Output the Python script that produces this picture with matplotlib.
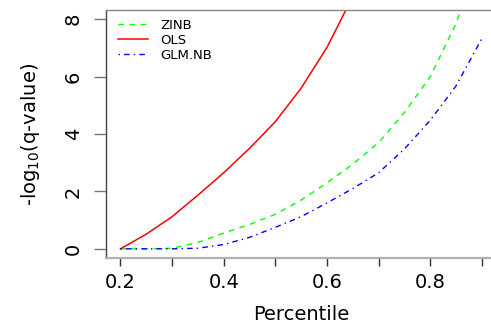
import matplotlib
matplotlib.use("Agg")
import matplotlib.pyplot as plt

plt.rcParams['font.family'] = ['DejaVu Sans']
plt.rcParams['mathtext.fontset'] = 'dejavusans'

percentile = [0.20, 0.25, 0.30, 0.35, 0.40, 0.45, 0.50, 0.55, 0.60, 0.65, 0.70, 0.75, 0.80, 0.85, 0.90]
zinb = [0.0, 0.0, 0.02, 0.22, 0.55, 0.85, 1.2, 1.7, 2.3, 2.95, 3.7, 4.75, 6.0, 7.85, 10.5]
glmnb = [0.0, 0.0, 0.0, 0.02, 0.15, 0.4, 0.75, 1.12, 1.6, 2.1, 2.65, 3.48, 4.48, 5.68, 7.33]
ols_x = [0.20, 0.25, 0.30, 0.35, 0.40, 0.45, 0.50, 0.55, 0.60, 0.65, 0.70]
ols = [0.0, 0.51, 1.12, 1.87, 2.65, 3.5, 4.43, 5.6, 7.02, 8.8, 11.0]

xticks = [0.2, 0.3, 0.4, 0.5, 0.6, 0.7, 0.8, 0.9]
xticklabels = ['0.2', '', '0.4', '', '0.6', '', '0.8', '']
yticks = [0, 2, 4, 6, 8]

W, H = 491, 327
fig = plt.figure(figsize=(W / 100, H / 100), dpi=100)
left, right, top, bottom = 106, 496.4, 10, 258
ax = fig.add_axes([left / W, 1 - bottom / H, (right - left) / W, (bottom - top) / H])

ax.plot(percentile, zinb, color='#00ff00', lw=1.0, linestyle=(0, (4, 4)), label='ZINB')
ax.plot(ols_x, ols, color='#ff0000', lw=1.1, linestyle='-', label='OLS')
ax.plot(percentile, glmnb, color='#0000ff', lw=1.0, linestyle=(0, (1, 3, 4, 3)), label='GLM.NB')

ax.set_xlim(0.172, 0.928)
ax.set_ylim(-0.32, 8.32)

ax.set_xticks(xticks)
ax.set_xticklabels(xticklabels, fontsize=14)
ax.set_yticks(yticks)
ax.set_yticklabels([str(v) for v in yticks], fontsize=14, rotation=90, va='center')

ax.tick_params(axis='x', length=6, width=1, color='#333333', pad=4.5)
ax.tick_params(axis='y', length=8.6, width=1, color='#777777', pad=8)

ax.spines['left'].set_color('#444444')
ax.spines['left'].set_linewidth(1.0)
ax.spines['bottom'].set_color('#b0b0b0')
ax.spines['bottom'].set_linewidth(1.6)
ax.spines['top'].set_color('#888888')
ax.spines['top'].set_linewidth(1.0)
ax.spines['right'].set_visible(False)

fig.text(301 / W, 1 - 315 / H, 'Percentile', fontsize=14, ha='center', va='center')
fig.text(30 / W, 1 - 134 / H, r'-log$_{10}$(q-value)', fontsize=14, ha='center', va='center', rotation=90)

leg = ax.legend(loc='upper left', bbox_to_anchor=(118 / W, 1 - 19 / H), bbox_transform=fig.transFigure,
                frameon=False, fontsize=9.5, handlelength=2.3, handletextpad=0.9,
                labelspacing=0.15, borderpad=0, borderaxespad=0)

fig.savefig('out.png', dpi=100)
